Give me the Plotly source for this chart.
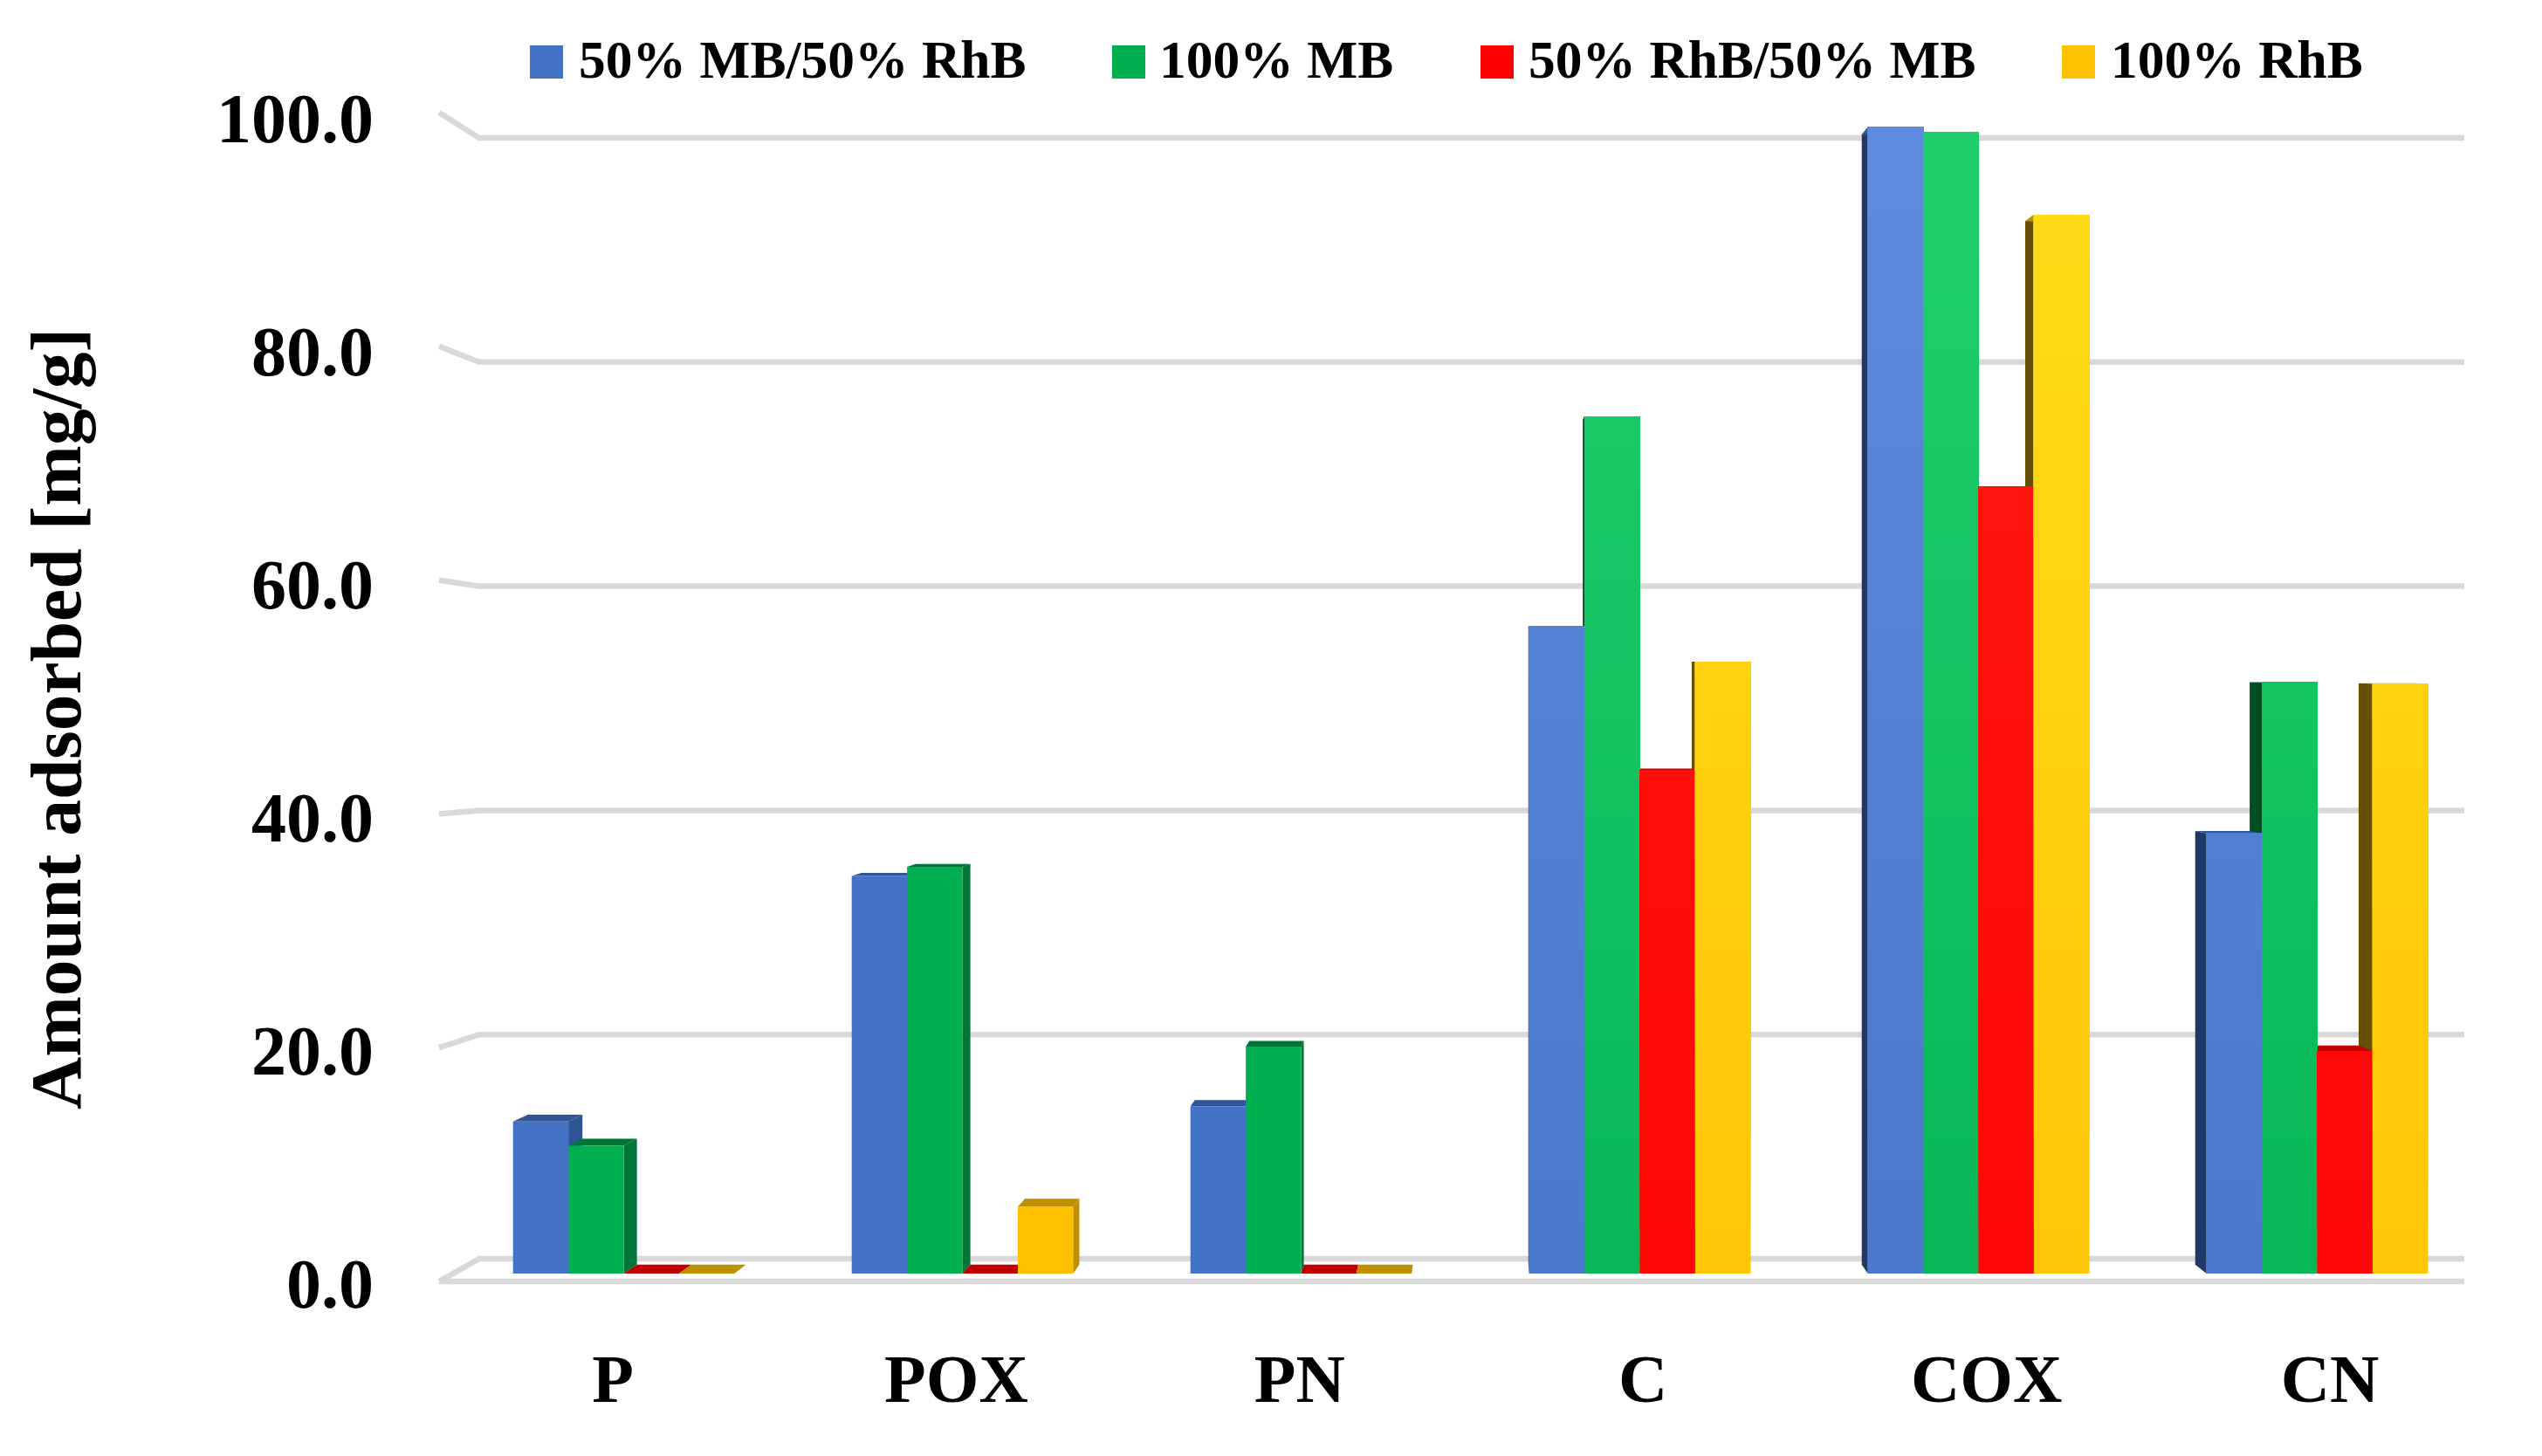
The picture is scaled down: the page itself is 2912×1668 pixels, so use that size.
import plotly.graph_objects as go

# Sample labels and adsorption capacities (mg/g) for each dye system
samples = ["P", "POX", "PN", "C", "COX", "CN"]
series_names = ["50% MB/50% RhB", "100% MB", "50% RhB/50% MB", "100% RhB"]
mb_mix = [13.2, 34.5, 14.5, 56.2, 99.5, 38.2]
mb_only = [11.1, 35.3, 19.7, 74.4, 99.1, 51.3]
rhb_mix = [0.0, 0.0, 0.0, 43.7, 68.3, 19.3]
rhb_only = [0.0, 5.8, 0.0, 53.1, 91.9, 51.2]
all_values = [mb_mix, mb_only, rhb_mix, rhb_only]
y_ticks = [0, 20, 40, 60, 80, 100]
y_tick_labels = ["0.0", "20.0", "40.0", "60.0", "80.0", "100.0"]

# Face colours per series
front = [(0x44, 0x72, 0xC4), (0x00, 0xB0, 0x50), (0xFF, 0x00, 0x00), (0xFF, 0xC0, 0x00)]
front_light = [(0x5F, 0x8B, 0xE0), (0x1F, 0xD0, 0x6C), (0xFF, 0x1A, 0x12), (0xFF, 0xDD, 0x1A)]
side = ["#2F5597", "#00753A", "#C00000", "#BF9000"]
side_dark = ["#1F3864", "#004F23", "#C00000", "#665000"]
GRID = "#D9D9D9"
SHADED = ("C", "COX", "CN")   # groups whose front faces brighten with height
DARK_SIDE = ("C", "COX", "CN")

W, H = 2912, 1668

# Pixel layout of the bar plane
X0, DX = 714.5, 388.0      # centre of first group, spacing between groups
Y0, DY = 1459.0, 13.2      # baseline, pixels per mg/g
BAR = 0.1634               # one bar's width in category units
xr = [-X0 / DX, (W - X0) / DX]
yr = [-(H - Y0) / DY, Y0 / DY]

# Vanishing point in data space, for the depth of each bar
VX, VY = (1690 - X0) / DX, (Y0 - 761) / DY
KX, KY = 0.0155, 0.0146


def depth(x, v):
    return x + KX * (VX - x), v + KY * (VY - v)


def poly(points, fill):
    d = "M" + "L".join(f"{a},{b}" for a, b in points) + "Z"
    return dict(type="path", path=d, xref="x", yref="y", layer="below",
                fillcolor=fill, line=dict(width=0))


def paper_line(points):
    d = "M" + "L".join(f"{a / W},{1 - b / H}" for a, b in points)
    return dict(type="path", path=d, xref="paper", yref="paper", layer="below",
                line=dict(color=GRID, width=6.5))


def tint(s, t):
    a, b = front[s], front_light[s]
    return "rgb(%d,%d,%d)" % tuple(round(p + (q - p) * t) for p, q in zip(a, b))


shapes = []

# Gridlines: a short slanted stub on the side wall, then along the back wall
BACK_LEFT, RIGHT, STUB_LEFT = 549, 2823, 503
back_y = lambda t: 1442 - 12.84 * t
stub_y = lambda t: 1468 - 13.39 * t
for t in y_ticks:
    shapes.append(paper_line([(STUB_LEFT, stub_y(t)), (BACK_LEFT, back_y(t)), (RIGHT, back_y(t))]))
shapes.append(paper_line([(STUB_LEFT, 1468), (RIGHT, 1468)]))

# Depth faces, farthest from the vanishing point first
bars = []
for s, values in enumerate(all_values):
    for i, v in enumerate(values):
        xl = i + (s - 2) * BAR
        bars.append((abs(xl + BAR / 2 - VX), s, xl, xl + BAR, v, i))
for _, s, xl, xr_, v, i in sorted(bars, key=lambda b: -b[0]):
    col = side_dark[s] if samples[i] in DARK_SIDE else side[s]
    edge = xr_ if xr_ < VX else xl
    bx, bv = depth(edge, v)
    _, b0 = depth(edge, 0)
    shapes.append(poly([(edge, 0), (edge, v), (bx, bv), (bx, b0)], col))
    blx, _ = depth(xl, v)
    brx, _ = depth(xr_, v)
    shapes.append(poly([(xl, v), (xr_, v), (brx, bv), (blx, bv)], side[s]))

fig = go.Figure()

# Front faces
for s, name in enumerate(series_names):
    fig.add_trace(go.Bar(x=list(range(len(samples))), y=all_values[s], name=name,
                         marker=dict(color="rgb(%d,%d,%d)" % front[s], line=dict(width=0)),
                         showlegend=False, xaxis="x", yaxis="y"))

# Vertical brightening on the taller groups, painted bottom-up in narrowing bands
for s, values in enumerate(all_values):
    for i, v in enumerate(values):
        if samples[i] not in SHADED:
            continue
        h = 0.0
        while h < v:
            shapes.append(dict(type="rect", xref="x", yref="y", layer="above",
                               x0=i + (s - 2) * BAR, x1=i + (s - 1) * BAR, y0=h, y1=v,
                               fillcolor=tint(s, 0.25 + 0.75 * h / 100), line=dict(width=0)))
            h += 4.0

# Legend drawn as swatches and labels along the top
swatch_left = [607, 1274, 1696, 2362]
text_left = [661, 1326, 1749, 2416]
annotations = []
for s, name in enumerate(series_names):
    shapes.append(dict(type="rect", xref="paper", yref="paper",
                       x0=swatch_left[s] / W, x1=(swatch_left[s] + 38) / W,
                       y0=1 - 90 / H, y1=1 - 52 / H,
                       fillcolor="rgb(%d,%d,%d)" % front[s], line=dict(width=0)))
    annotations.append(dict(text=f"<b>{name}</b>", xref="paper", yref="paper", showarrow=False,
                            x=text_left[s] / W, y=1 - 68 / H, xanchor="left", yanchor="middle",
                            font=dict(size=61.5, color="black", family="Liberation Serif")))

annotations.append(dict(text="<b>Amount adsorbed [mg/g]</b>", xref="paper", yref="paper",
                        showarrow=False, x=64 / W, y=1 - 824 / H, textangle=-90,
                        xanchor="center", yanchor="middle",
                        font=dict(size=83.5, color="black", family="Liberation Serif")))

fig.update_layout(
    width=W, height=H, autosize=False,
    margin=dict(l=0, r=0, t=0, b=0),
    paper_bgcolor="white", plot_bgcolor="rgba(0,0,0,0)",
    barmode="group", bargap=1 - 4 * BAR, bargroupgap=0,
    shapes=shapes, annotations=annotations,
    xaxis=dict(range=xr, domain=[0, 1], visible=False, fixedrange=True),
    yaxis=dict(range=yr, domain=[0, 1], visible=False, fixedrange=True),
    # Sample labels and value ticks sit on the front plane of the floor
    xaxis2=dict(range=[-702 / 393.4, (W - 702) / 393.4], domain=[0, 1], overlaying="x",
                anchor="free", position=1 - 1527 / H, side="bottom",
                tickmode="array", tickvals=list(range(len(samples))),
                ticktext=[f"<b>{c}</b>" for c in samples],
                tickfont=dict(size=78, color="black", family="Liberation Serif"),
                showgrid=False, zeroline=False, showline=False, ticks=""),
    yaxis2=dict(range=[-(H - 1470) / 13.35, 1470 / 13.35], domain=[0, 1], overlaying="y",
                anchor="free", position=428 / W, side="left",
                tickmode="array", tickvals=y_ticks,
                ticktext=[f"<b>{t}</b>" for t in y_tick_labels],
                tickfont=dict(size=80, color="black", family="Liberation Serif"),
                showgrid=False, zeroline=False, showline=False, ticks=""),
)

# Empty trace so the label axes are rendered
fig.add_trace(go.Scatter(x=[0], y=[0], xaxis="x2", yaxis="y2", mode="markers",
                         marker=dict(opacity=0), showlegend=False, hoverinfo="skip"))

fig.write_html("out.html")
